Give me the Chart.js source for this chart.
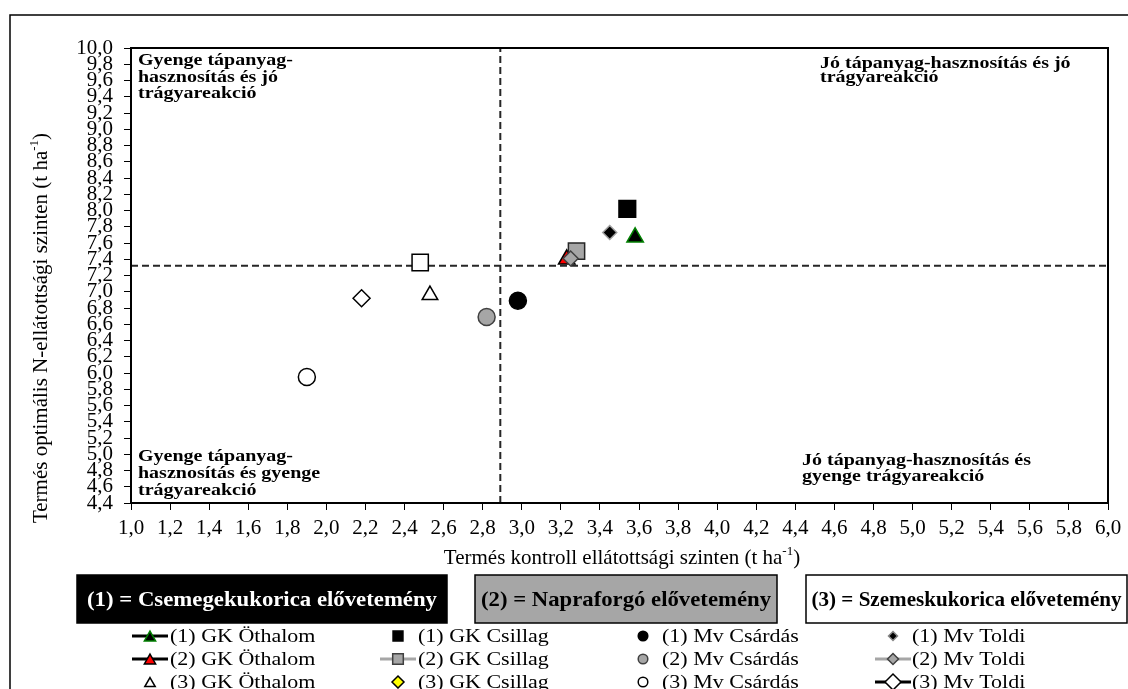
<!DOCTYPE html>
<html>
<head>
<meta charset="utf-8">
<script src="https://cdn.jsdelivr.net/npm/chart.js@4.4.1/dist/chart.umd.min.js"></script>
<style>
body { margin: 0; background: #fff; }
canvas { display: block; }
</style>
</head>
<body>
<canvas id="chart" width="1128" height="689"></canvas>
<script>
// data
const seriesNames = ['(1) GK Öthalom', '(2) GK Öthalom', '(3) GK Öthalom',
  '(1) GK Csillag', '(2) GK Csillag', '(3) GK Csillag',
  '(1) Mv Csárdás', '(2) Mv Csárdás', '(3) Mv Csárdás',
  '(1) Mv Toldi', '(2) Mv Toldi', '(3) Mv Toldi'];
const controlYield = [3.58, 3.23, 2.53, 3.54, 3.28, 2.48, 2.98, 2.82, 1.90, 3.45, 3.25, 2.18];
const optimalYield = [7.67, 7.40, 6.96, 8.02, 7.50, 7.36, 6.89, 6.69, 5.95, 7.73, 7.41, 6.92];
const xThreshold = 2.89;
const yThreshold = 7.32;
const xRange = [1.0, 6.0];
const yRange = [4.4, 10.0];
const tickStep = 0.2;
const previousCrops = ['(1) = Csemegekukorica elővetemény', '(2) = Napraforgó elővetemény', '(3) = Szemeskukorica elővetemény'];
const quadrantTexts = [
  ['Gyenge tápanyag-', 'hasznosítás és jó', 'trágyareakció'],
  ['Jó tápanyag-hasznosítás és jó', 'trágyareakció'],
  ['Gyenge tápanyag-', 'hasznosítás és gyenge', 'trágyareakció'],
  ['Jó tápanyag-hasznosítás és', 'gyenge trágyareakció']
];
const xTitle = 'Termés kontroll ellátottsági szinten (t ha';
const yTitle = 'Termés optimális N-ellátottsági szinten (t ha';

const SERIF = '"Liberation Serif", "Times New Roman", serif';

// marker look in the plot
const markerStyles = [
  { shape: 'triangle', r: 9.5, fill: '#000000', stroke: '#008000', order: 5 },
  { shape: 'triangle', r: 9.5, fill: '#ff0000', stroke: '#000000', order: 3 },
  { shape: 'triangle', r: 9, fill: '#ffffff', stroke: '#000000', order: 5 },
  { shape: 'rect', r: 11.8, fill: '#000000', stroke: '#000000', order: 5 },
  { shape: 'rect', r: 11.5, fill: '#a6a6a6', stroke: '#262626', order: 2 },
  { shape: 'rect', r: 11.5, fill: '#ffffff', stroke: '#000000', order: 5 },
  { shape: 'circle', r: 8.5, fill: '#000000', stroke: '#000000', order: 5 },
  { shape: 'circle', r: 8.5, fill: '#a6a6a6', stroke: '#404040', order: 5 },
  { shape: 'circle', r: 8.5, fill: '#ffffff', stroke: '#000000', order: 5 },
  { shape: 'rectRot', r: 7, fill: '#000000', stroke: '#a0a0a0', order: 5 },
  { shape: 'rectRot', r: 7.5, fill: '#a6a6a6', stroke: '#404040', order: 1 },
  { shape: 'rectRot', r: 8.5, fill: '#ffffff', stroke: '#000000', order: 5 }
];

// marker look in the legend (differs a bit from the plot)
const legendMarks = [
  { shape: 'triangle', r: 6.5, fill: '#000000', stroke: '#008000', line: '#000000' },
  { shape: 'triangle', r: 6.5, fill: '#ff0000', stroke: '#000000', line: '#000000' },
  { shape: 'triangle', r: 6, fill: '#ffffff', stroke: '#000000' },
  { shape: 'rect', r: 7, fill: '#000000', stroke: '#000000' },
  { shape: 'rect', r: 7.5, fill: '#a6a6a6', stroke: '#404040', line: '#a6a6a6' },
  { shape: 'rectRot', r: 6, fill: '#ffff00', stroke: '#000000' },
  { shape: 'circle', r: 4.8, fill: '#000000', stroke: '#000000' },
  { shape: 'circle', r: 4.8, fill: '#a6a6a6', stroke: '#404040' },
  { shape: 'circle', r: 4.8, fill: '#ffffff', stroke: '#000000' },
  { shape: 'rectRot', r: 4.5, fill: '#000000', stroke: '#888888' },
  { shape: 'rectRot', r: 5.5, fill: '#a6a6a6', stroke: '#404040', line: '#a6a6a6' },
  { shape: 'rectRot', r: 8, fill: '#ffffff', stroke: '#000000', line: '#000000' }
];

function markPath(ctx, shape, x, y, r) {
  ctx.beginPath();
  if (shape === 'circle') {
    ctx.arc(x, y, r, 0, Math.PI * 2);
  } else if (shape === 'rect') {
    const s = r * Math.SQRT1_2;
    ctx.rect(x - s, y - s, 2 * s, 2 * s);
  } else if (shape === 'rectRot') {
    ctx.moveTo(x - r, y); ctx.lineTo(x, y - r); ctx.lineTo(x + r, y); ctx.lineTo(x, y + r);
    ctx.closePath();
  } else {
    ctx.moveTo(x, y - r); ctx.lineTo(x + 0.866 * r, y + r / 2); ctx.lineTo(x - 0.866 * r, y + r / 2);
    ctx.closePath();
  }
}

// text squashed vertically (the original looks a bit stretched sideways), optionally fit to a width
function squashText(ctx, text, x, y, font, align, sy, maxW) {
  ctx.save();
  ctx.font = font;
  let sx = 1;
  if (maxW) {
    const w = ctx.measureText(text).width;
    if (w > maxW) sx = maxW / w;
  }
  ctx.translate(x, y);
  ctx.scale(sx, sy);
  ctx.textAlign = align;
  ctx.textBaseline = 'alphabetic';
  ctx.fillText(text, 0, 0);
  ctx.restore();
}

function supTitle(ctx, main, cx, cy, rot) {
  const big = '21px ' + SERIF, small = '13px ' + SERIF;
  ctx.save();
  ctx.translate(cx, cy);
  ctx.rotate(rot);
  ctx.fillStyle = '#000';
  ctx.textAlign = 'left';
  ctx.textBaseline = 'alphabetic';
  ctx.font = big;
  const w1 = ctx.measureText(main).width, w3 = ctx.measureText(')').width;
  ctx.font = small;
  const w2 = ctx.measureText('-1').width;
  let x = -(w1 + w2 + w3) / 2;
  ctx.font = big; ctx.fillText(main, x, 7); x += w1;
  ctx.font = small; ctx.fillText('-1', x, -2); x += w2;
  ctx.font = big; ctx.fillText(')', x, 7);
  ctx.restore();
}

const decorations = {
  id: 'decorations',
  afterDraw(chart) {
    const { ctx, chartArea: a } = chart;
    ctx.save();

    // plot frame + outer frame
    ctx.strokeStyle = '#000';
    ctx.lineWidth = 2;
    ctx.strokeRect(a.left, a.top, a.right - a.left, a.bottom - a.top);
    ctx.lineWidth = 1.5;
    ctx.beginPath();
    ctx.moveTo(10, 689); ctx.lineTo(10, 15); ctx.lineTo(1128, 15);
    ctx.stroke();

    // quadrant captions
    const qPos = [[138, 65, 16.5], [820, 68, 14], [138, 461, 17], [802, 465, 16]];
    ctx.fillStyle = '#000';
    quadrantTexts.forEach((lines, q) => {
      lines.forEach((t, k) => {
        squashText(ctx, t, qPos[q][0], qPos[q][1] + k * qPos[q][2], 'bold 20px ' + SERIF, 'left', 0.82);
      });
    });

    // axis titles
    supTitle(ctx, xTitle, 622, 557, 0);
    supTitle(ctx, yTitle, 40, 328, -Math.PI / 2);

    // previous crop boxes
    const boxes = [[77, 447, '#000000', '#ffffff', 350], [475, 777, '#a6a6a6', '#000000', 290], [806, 1127, '#ffffff', '#000000', 310]];
    boxes.forEach((b, i) => {
      ctx.fillStyle = b[2];
      ctx.fillRect(b[0], 575, b[1] - b[0], 48);
      ctx.strokeStyle = '#000';
      ctx.lineWidth = 1.5;
      ctx.strokeRect(b[0], 575, b[1] - b[0], 48);
      ctx.fillStyle = b[3];
      squashText(ctx, previousCrops[i], (b[0] + b[1]) / 2, 606, 'bold 23px ' + SERIF, 'center', 0.9, b[4]);
    });

    // legend
    const markX = [150, 398, 643, 893];
    const textX = [170, 418, 662, 912];
    const rowY = [636, 659, 682];
    seriesNames.forEach((name, i) => {
      const col = Math.floor(i / 3), row = i % 3;
      const m = legendMarks[i];
      const mx = markX[col], my = rowY[row];
      if (m.line) {
        ctx.strokeStyle = m.line;
        ctx.lineWidth = 3;
        ctx.beginPath(); ctx.moveTo(mx - 18, my); ctx.lineTo(mx + 18, my); ctx.stroke();
      }
      const dy = m.shape === 'triangle' ? m.r * 0.25 : 0;
      markPath(ctx, m.shape, mx, my + dy, m.r);
      ctx.fillStyle = m.fill; ctx.fill();
      ctx.strokeStyle = m.stroke; ctx.lineWidth = 1.5; ctx.stroke();
      ctx.fillStyle = '#000';
      squashText(ctx, name, textX[col], my + 6, '22px ' + SERIF, 'left', 0.9);
    });

    ctx.restore();
  }
};

const pointSets = seriesNames.map((name, i) => ({
  label: name,
  data: [{ x: controlYield[i], y: optimalYield[i] }],
  pointStyle: markerStyles[i].shape,
  pointRadius: markerStyles[i].r,
  pointBackgroundColor: markerStyles[i].fill,
  pointBorderColor: markerStyles[i].stroke,
  pointBorderWidth: 1.5,
  order: markerStyles[i].order
}));

const thresholdLine = (pts) => ({
  label: 'threshold',
  data: pts,
  showLine: true,
  pointRadius: 0,
  borderColor: '#262626',
  borderWidth: 2,
  borderDash: [7, 4],
  fill: false,
  order: 50
});

const axisTicks = {
  stepSize: tickStep,
  autoSkip: false,
  maxRotation: 0,
  color: '#000',
  font: { family: SERIF, size: 21 },
  callback: v => v.toFixed(1).replace('.', ',')
};

const ctx = document.getElementById('chart').getContext('2d');

const chart = new Chart(ctx, {
  type: 'scatter',
  data: {
    datasets: [
      ...pointSets,
      thresholdLine([{ x: xThreshold, y: yRange[0] }, { x: xThreshold, y: yRange[1] }]),
      thresholdLine([{ x: xRange[0], y: yThreshold }, { x: xRange[1], y: yThreshold }])
    ]
  },
  options: {
    responsive: false,
    animation: false,
    events: [],
    layout: { padding: { top: 48, right: 20, left: 0, bottom: 0 } },
    scales: {
      x: {
        type: 'linear',
        min: xRange[0],
        max: xRange[1],
        ticks: { ...axisTicks, padding: 6 },
        grid: { drawOnChartArea: false, drawTicks: true, tickLength: 7, color: '#000' },
        border: { display: true, color: '#000', width: 2 },
        afterFit: s => { s.height = 186; }
      },
      y: {
        type: 'linear',
        min: yRange[0],
        max: yRange[1],
        ticks: { ...axisTicks, padding: 11 },
        grid: { drawOnChartArea: false, drawTicks: true, tickLength: 7, color: '#000' },
        border: { display: true, color: '#000', width: 2 },
        afterFit: s => { s.width = 131; }
      }
    },
    plugins: {
      legend: { display: false },
      tooltip: { enabled: false }
    }
  },
  plugins: [decorations]
});
</script>
</body>
</html>
